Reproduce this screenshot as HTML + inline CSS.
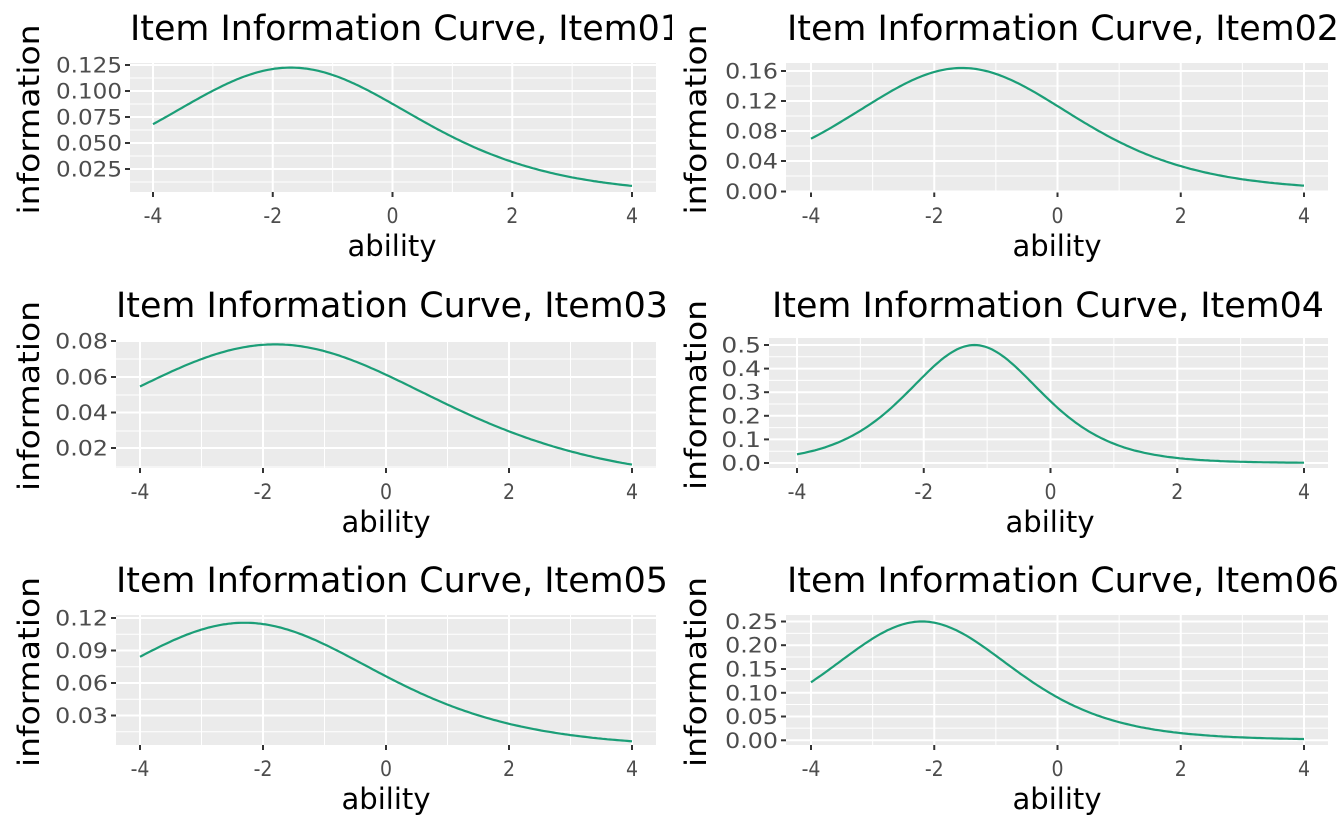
<!DOCTYPE html>
<html><head><meta charset="utf-8"><style>
html,body{margin:0;padding:0;background:#fff;}
svg{display:block;font-family:"DejaVu Sans Condensed","DejaVu Sans","Liberation Sans",sans-serif;}
</style></head><body>
<svg id="s" width="1344" height="830" xmlns="http://www.w3.org/2000/svg"></svg>
<script>
const P=[
 {t:"Item Information Curve, Item01",tx:130,ty:40,clip:[0,672],x0:130,x1:656,y0:63,y1:192,xl:153,xr:632,ticks:[[0.125,65],[0.100,91],[0.075,117],[0.050,143],[0.025,169]],fmt:3,a:0.70,b:-1.7,cx:392},
 {t:"Item Information Curve, Item02",tx:787,ty:40,clip:[672,1344],x0:786,x1:1328,y0:63,y1:192,xl:811,xr:1304,ticks:[[0.16,71],[0.12,101],[0.08,131],[0.04,161],[0.00,191.5]],fmt:2,a:0.81,b:-1.55,cx:1057},
 {t:"Item Information Curve, Item03",tx:116,ty:317,clip:[0,672],x0:116,x1:656,y0:340,y1:468,xl:140,xr:632,ticks:[[0.08,341],[0.06,377],[0.04,412.5],[0.02,448]],fmt:2,a:0.559,b:-1.8,cx:386},
 {t:"Item Information Curve, Item04",tx:772,ty:317,clip:[672,1344],x0:769,x1:1328,y0:338,y1:468,xl:797,xr:1304,ticks:[[0.5,345],[0.4,368.6],[0.3,392.2],[0.2,415.8],[0.1,439.4],[0.0,463]],fmt:1,a:1.414,b:-1.2,cx:1050},
 {t:"Item Information Curve, Item05",tx:116,ty:592,clip:[0,672],x0:116,x1:656,y0:615,y1:745,xl:140,xr:632,ticks:[[0.12,618],[0.09,650.5],[0.06,683],[0.03,715.5]],fmt:2,a:0.68,b:-2.3,cx:386},
 {t:"Item Information Curve, Item06",tx:787,ty:592,clip:[672,1344],x0:786,x1:1328,y0:615,y1:745,xl:811,xr:1304,ticks:[[0.25,621.5],[0.20,645.2],[0.15,669],[0.10,692.8],[0.05,716.5],[0.00,740.3]],fmt:2,a:1.0,b:-2.2,cx:1057}
];
let h="";
P.forEach((p,i)=>{
 const X=v=>p.xl+(v+4)*(p.xr-p.xl)/8;
 const [v1,py1]=p.ticks[0],[v2,py2]=p.ticks[1];
 const k=(py2-py1)/(v2-v1); const Y=v=>py1+(v-v1)*k;
 h+=`<clipPath id="c${i}"><rect x="${p.clip[0]}" y="0" width="${p.clip[1]-p.clip[0]}" height="830"/></clipPath>`;
 h+=`<rect x="${p.x0}" y="${p.y0}" width="${p.x1-p.x0}" height="${p.y1-p.y0}" fill="#ebebeb"/>`;
 for(let v=-5;v<=5;v+=2){const x=X(v);if(x>p.x0&&x<p.x1)h+=`<line x1="${x}" x2="${x}" y1="${p.y0}" y2="${p.y1}" stroke="#fff" stroke-width="1"/>`;}
 const st=p.ticks[1][0]-p.ticks[0][0];
 for(let j=-1;j<p.ticks.length;j++){const v=p.ticks[0][0]+(j+0.5)*st;const y=Y(v);if(y>p.y0&&y<p.y1)h+=`<line x1="${p.x0}" x2="${p.x1}" y1="${y}" y2="${y}" stroke="#fff" stroke-width="1"/>`;}
 for(let v=-4;v<=4;v+=2){const x=X(v);h+=`<line x1="${x}" x2="${x}" y1="${p.y0}" y2="${p.y1}" stroke="#fff" stroke-width="2"/>`;
  h+=`<line x1="${x}" x2="${x}" y1="${p.y1}" y2="${p.y1+5}" stroke="#333" stroke-width="2"/>`;
  h+=`<text x="${x}" y="${p.y1+31}" font-size="21" fill="#4d4d4d" text-anchor="middle">${v}</text>`;}
 p.ticks.forEach(([v,y])=>{h+=`<line x1="${p.x0}" x2="${p.x1}" y1="${y}" y2="${y}" stroke="#fff" stroke-width="2"/>`;
  h+=`<line x1="${p.x0-5}" x2="${p.x0}" y1="${y}" y2="${y}" stroke="#333" stroke-width="2"/>`;
  const s=v.toFixed(p.fmt);
  h+=`<text x="${p.x0-8}" y="${y+7.5}" font-size="21" fill="#4d4d4d" text-anchor="end" textLength="${s.length*13.2}" lengthAdjust="spacingAndGlyphs">${s}</text>`;});
 let d="";for(let t=0;t<=200;t++){const v=-4+t*0.04;const z=p.a*(v-p.b);const e=Math.exp(-z);const inf=p.a*p.a*e/((1+e)*(1+e));d+=(t?"L":"M")+X(v).toFixed(1)+","+Y(inf).toFixed(1);}
 h+=`<path d="${d}" fill="none" stroke="#1b9e77" stroke-width="2.2"/>`;
 h+=`<text x="${p.cx}" y="${p.y1+64}" font-size="29" text-anchor="middle" textLength="89" lengthAdjust="spacingAndGlyphs">ability</text>`;
 const lx=(i%2?706:39); const ly=(p.y0+p.y1)/2-8;
 h+=`<text transform="translate(${lx},${ly}) rotate(-90)" font-size="29" text-anchor="middle" textLength="190" lengthAdjust="spacingAndGlyphs">information</text>`;
 h+=`<text x="${p.tx}" y="${p.ty}" font-size="35" clip-path="url(#c${i})" textLength="552" lengthAdjust="spacingAndGlyphs">${p.t}</text>`;
});
document.getElementById("s").innerHTML=h;
</script>
</body></html>
